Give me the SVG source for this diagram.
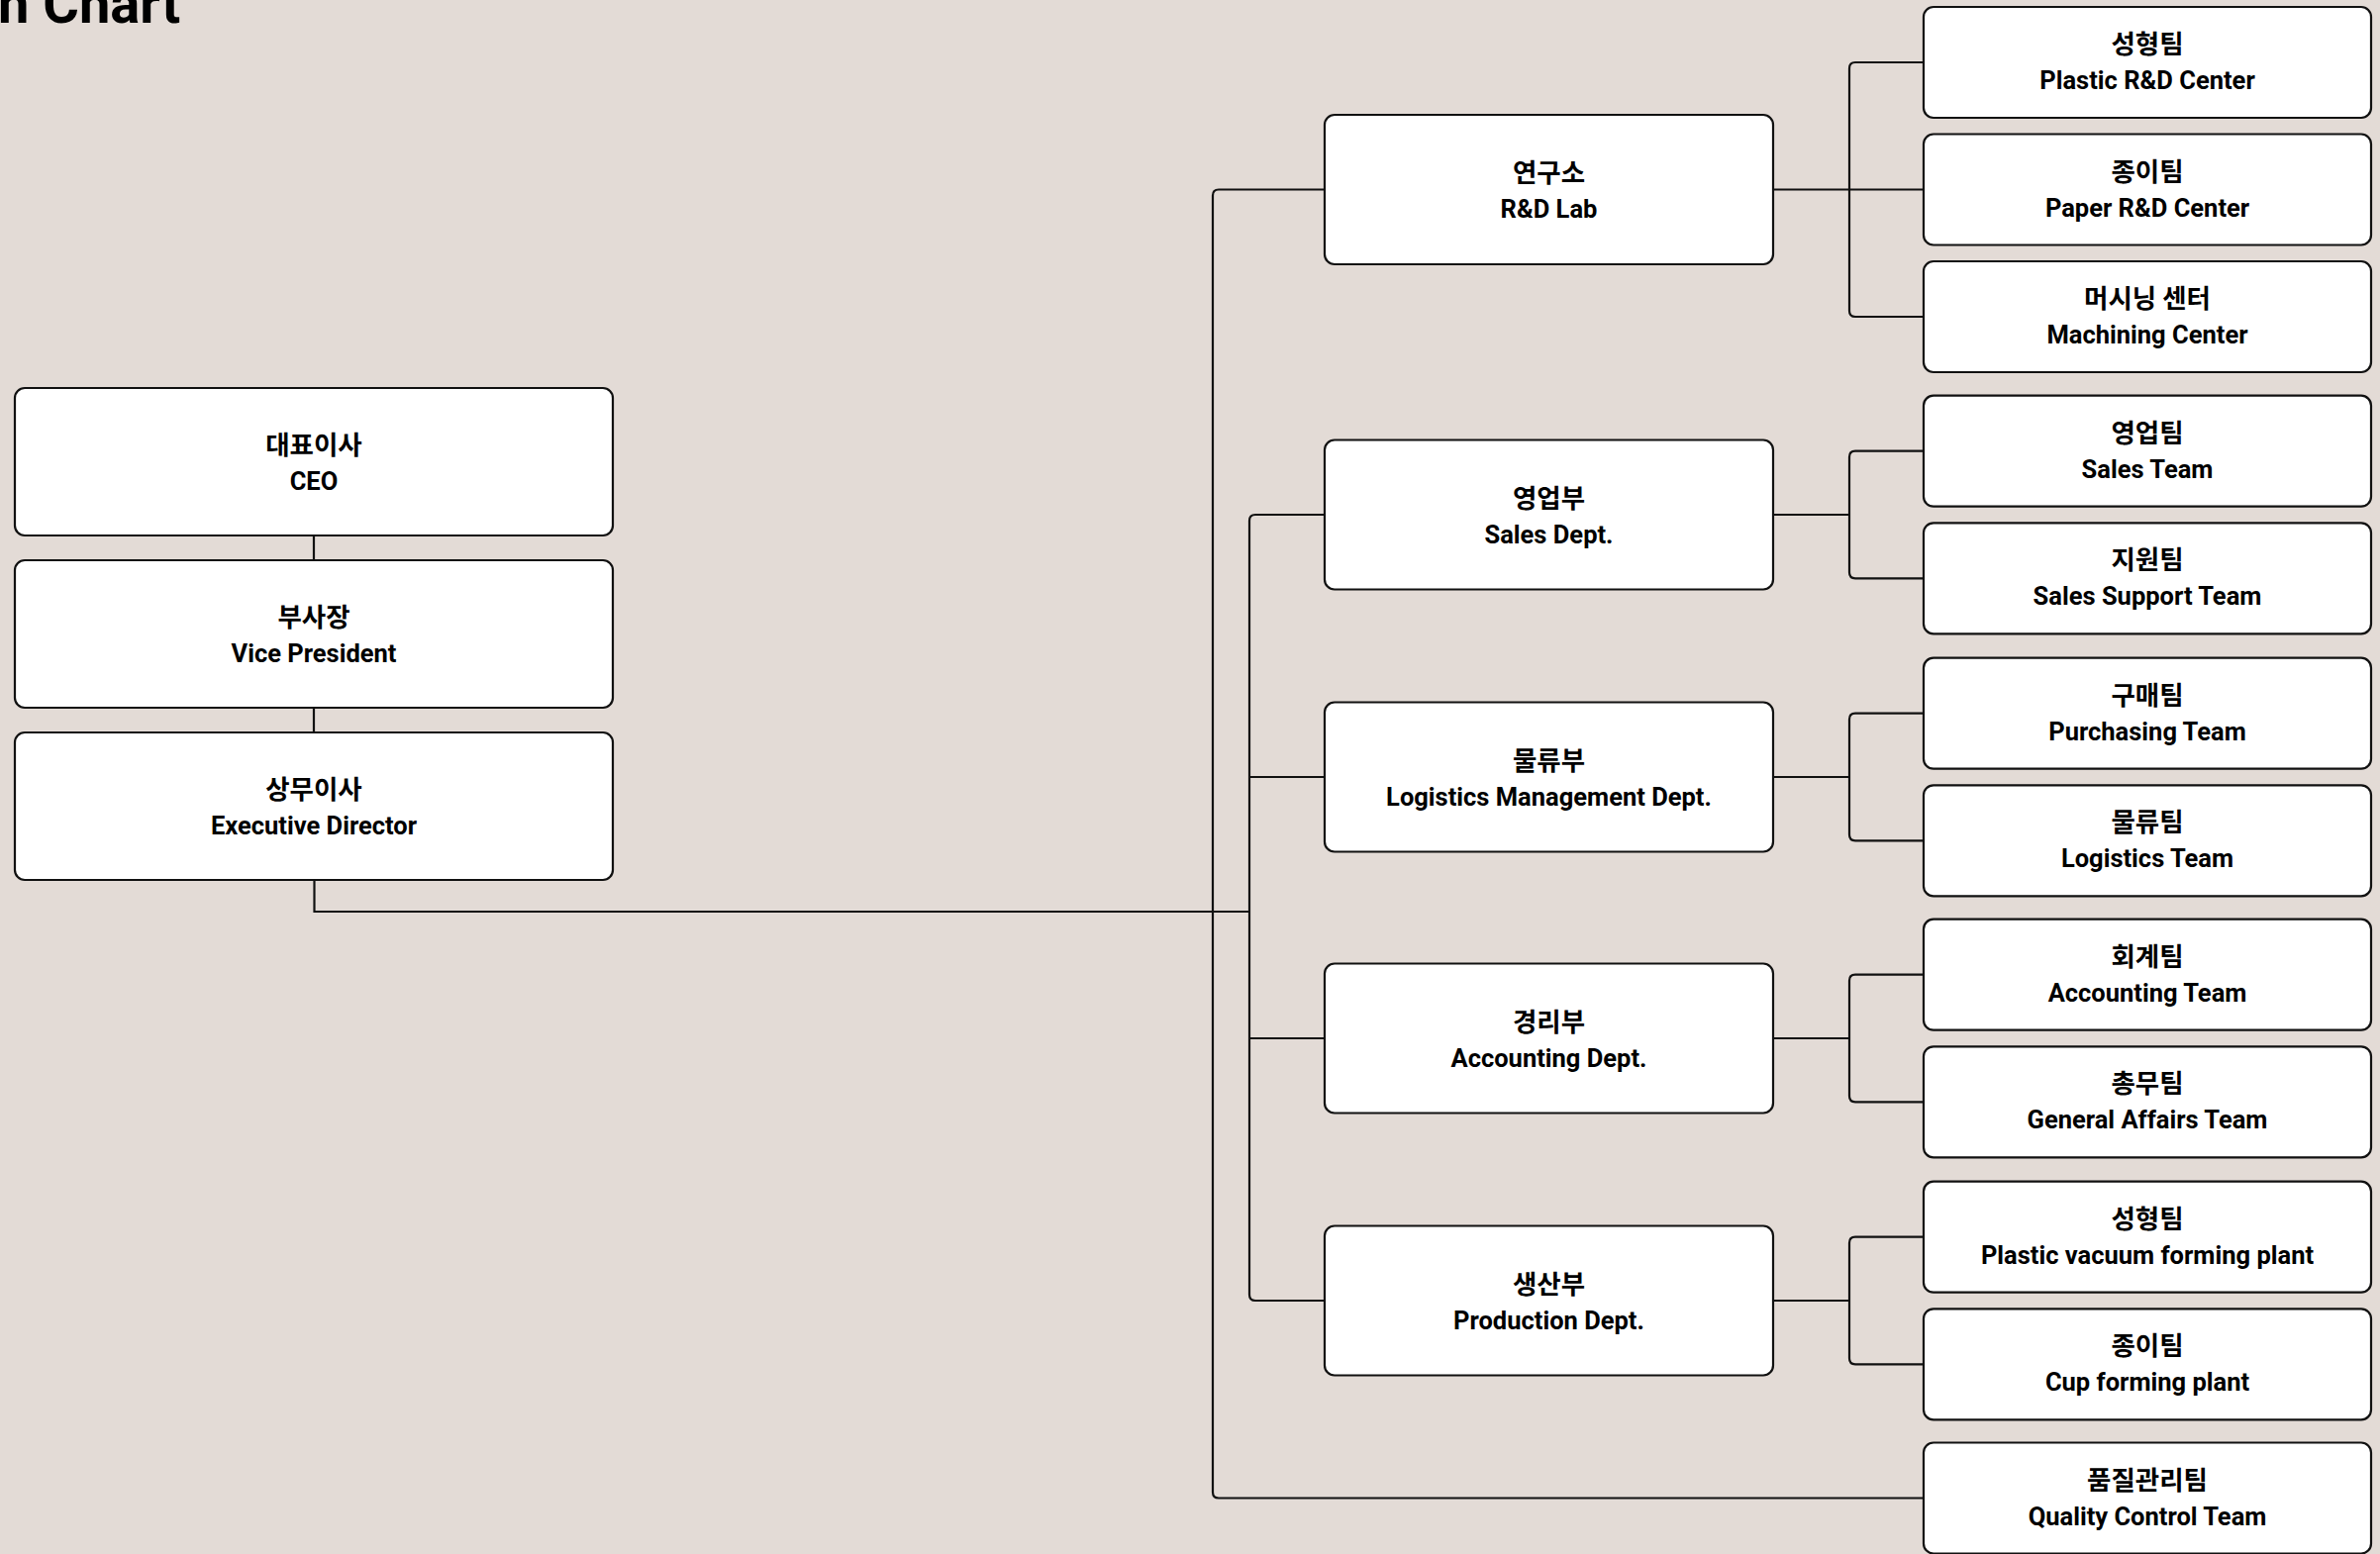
<svg xmlns="http://www.w3.org/2000/svg" width="2404" height="1570" viewBox="0 0 2404 1570">
<style>
.box{fill:#ffffff;stroke:#111111;stroke-width:2.2}
.ko{font-family:"Noto Sans CJK KR","Noto Sans",sans-serif;font-weight:700;font-size:26.5px;fill:#000;text-anchor:middle}
.en{font-family:Roboto,"Liberation Sans",sans-serif;font-weight:700;font-size:25.5px;fill:#000;text-anchor:middle}
.ln{fill:none;stroke:#111111;stroke-width:2.2}
.title{font-family:Roboto,"Liberation Sans",sans-serif;font-weight:700;font-size:56px;fill:#000}
</style>
<rect x="0" y="0" width="2404" height="1570" fill="#e3dbd6"/>
<text class="title" x="-2" y="23">n Chart</text>

<g id="connectors">
<path class="ln" d="M317,541 V566 M317,715 V740"/>
<path class="ln" d="M317.5,889 V921 H1262"/>
<path class="ln" d="M1338,191.5 H1231 Q1225,191.5 1225,197.5 V1507.5 Q1225,1513.5 1231,1513.5 H1944"/>
<path class="ln" d="M1338,520 H1268 Q1262,520 1262,526 V1308 Q1262,1314 1268,1314 H1338"/>
<path class="ln" d="M1262,785 H1338 M1262,1049 H1338"/>
<path class="ln" d="M1791,191.5 H1944"/>
<path class="ln" d="M1944,63 H1874 Q1868,63 1868,69 V314 Q1868,320 1874,320 H1944"/>
<path class="ln" d="M1791,520 H1868"/>
<path class="ln" d="M1944,455.7 H1874 Q1868,455.7 1868,461.7 V578.3 Q1868,584.3 1874,584.3 H1944"/>
<path class="ln" d="M1791,785 H1868"/>
<path class="ln" d="M1944,720.7 H1874 Q1868,720.7 1868,726.7 V843.3 Q1868,849.3 1874,849.3 H1944"/>
<path class="ln" d="M1791,1049 H1868"/>
<path class="ln" d="M1944,984.7 H1874 Q1868,984.7 1868,990.7 V1107.3 Q1868,1113.3 1874,1113.3 H1944"/>
<path class="ln" d="M1791,1314 H1868"/>
<path class="ln" d="M1944,1249.7 H1874 Q1868,1249.7 1868,1255.7 V1372.3 Q1868,1378.3 1874,1378.3 H1944"/>
</g>

<g id="ceo">
<rect class="box" x="15" y="392" width="604" height="149" rx="10"/>
<text class="ko" x="317" y="459">대표이사</text>
<text class="en" x="317" y="495">CEO</text>
</g>
<g id="vp">
<rect class="box" x="15" y="566" width="604" height="149" rx="10"/>
<text class="ko" x="317" y="633">부사장</text>
<text class="en" x="317" y="669">Vice President</text>
</g>
<g id="ed">
<rect class="box" x="15" y="740" width="604" height="149" rx="10"/>
<text class="ko" x="317" y="807">상무이사</text>
<text class="en" x="317" y="843">Executive Director</text>
</g>

<g id="rnd-lab">
<rect class="box" x="1338" y="116" width="453" height="151" rx="10"/>
<text class="ko" x="1564.5" y="184">연구소</text>
<text class="en" x="1564.5" y="220">R&amp;D Lab</text>
</g>
<g id="sales-dept">
<rect class="box" x="1338" y="444.5" width="453" height="151" rx="10"/>
<text class="ko" x="1564.5" y="512.5">영업부</text>
<text class="en" x="1564.5" y="548.5">Sales Dept.</text>
</g>
<g id="logistics-dept">
<rect class="box" x="1338" y="709.5" width="453" height="151" rx="10"/>
<text class="ko" x="1564.5" y="777.5">물류부</text>
<text class="en" x="1564.5" y="813.5">Logistics Management Dept.</text>
</g>
<g id="accounting-dept">
<rect class="box" x="1338" y="973.5" width="453" height="151" rx="10"/>
<text class="ko" x="1564.5" y="1041.5">경리부</text>
<text class="en" x="1564.5" y="1077.5">Accounting Dept.</text>
</g>
<g id="production-dept">
<rect class="box" x="1338" y="1238.5" width="453" height="151" rx="10"/>
<text class="ko" x="1564.5" y="1306.5">생산부</text>
<text class="en" x="1564.5" y="1342.5">Production Dept.</text>
</g>

<g id="team-plastic-rd">
<rect class="box" x="1943" y="7" width="452" height="112" rx="10"/>
<text class="ko" x="2169" y="54">성형팀</text>
<text class="en" x="2169" y="90">Plastic R&amp;D Center</text>
</g>
<g id="team-paper-rd">
<rect class="box" x="1943" y="135.5" width="452" height="112" rx="10"/>
<text class="ko" x="2169" y="182.5">종이팀</text>
<text class="en" x="2169" y="218.5">Paper R&amp;D Center</text>
</g>
<g id="team-machining">
<rect class="box" x="1943" y="264" width="452" height="112" rx="10"/>
<text class="ko" x="2169" y="311">머시닝 센터</text>
<text class="en" x="2169" y="347">Machining Center</text>
</g>
<g id="team-sales">
<rect class="box" x="1943" y="399.7" width="452" height="112" rx="10"/>
<text class="ko" x="2169" y="446.7">영업팀</text>
<text class="en" x="2169" y="482.7">Sales Team</text>
</g>
<g id="team-sales-support">
<rect class="box" x="1943" y="528.3" width="452" height="112" rx="10"/>
<text class="ko" x="2169" y="575.3">지원팀</text>
<text class="en" x="2169" y="611.3">Sales Support Team</text>
</g>
<g id="team-purchasing">
<rect class="box" x="1943" y="664.7" width="452" height="112" rx="10"/>
<text class="ko" x="2169" y="711.7">구매팀</text>
<text class="en" x="2169" y="747.7">Purchasing Team</text>
</g>
<g id="team-logistics">
<rect class="box" x="1943" y="793.3" width="452" height="112" rx="10"/>
<text class="ko" x="2169" y="840.3">물류팀</text>
<text class="en" x="2169" y="876.3">Logistics Team</text>
</g>
<g id="team-accounting">
<rect class="box" x="1943" y="928.7" width="452" height="112" rx="10"/>
<text class="ko" x="2169" y="975.7">회계팀</text>
<text class="en" x="2169" y="1011.7">Accounting Team</text>
</g>
<g id="team-general-affairs">
<rect class="box" x="1943" y="1057.3" width="452" height="112" rx="10"/>
<text class="ko" x="2169" y="1104.3">총무팀</text>
<text class="en" x="2169" y="1140.3">General Affairs Team</text>
</g>
<g id="team-plastic-vacuum">
<rect class="box" x="1943" y="1193.7" width="452" height="112" rx="10"/>
<text class="ko" x="2169" y="1240.7">성형팀</text>
<text class="en" x="2169" y="1276.7">Plastic vacuum forming plant</text>
</g>
<g id="team-cup-forming">
<rect class="box" x="1943" y="1322.3" width="452" height="112" rx="10"/>
<text class="ko" x="2169" y="1369.3">종이팀</text>
<text class="en" x="2169" y="1405.3">Cup forming plant</text>
</g>
<g id="team-quality">
<rect class="box" x="1943" y="1457.5" width="452" height="112" rx="10"/>
<text class="ko" x="2169" y="1504.5">품질관리팀</text>
<text class="en" x="2169" y="1540.5">Quality Control Team</text>
</g>
</svg>
